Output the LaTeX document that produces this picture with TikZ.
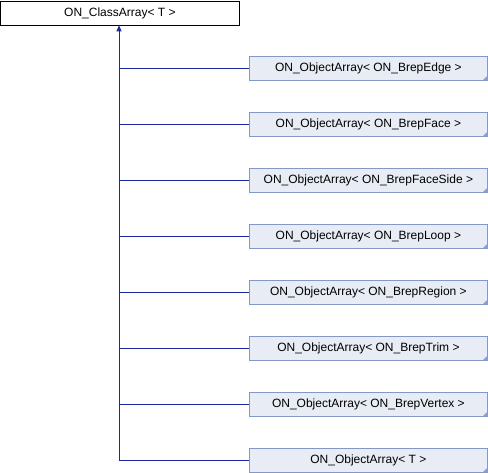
\documentclass[tikz,border=0pt]{standalone}
\usepackage{fontspec}
\setmainfont{Liberation Sans}
\usetikzlibrary{arrows.meta}
\definecolor{boxfill}{HTML}{E8ECF5}
\definecolor{boxline}{HTML}{8497C7}
\definecolor{linkblue}{HTML}{1A2A9A}
\definecolor{cornerblue}{HTML}{8C9DCC}
\tikzset{
  rootbox/.style={draw=black, fill=white, line width=0.8pt, minimum width=238pt, minimum height=24pt, inner sep=0pt, font=\fontsize{12}{14}\selectfont, anchor=north west},
  childbox/.style={draw=boxline, fill=boxfill, line width=0.8pt, minimum width=238pt, minimum height=24pt, inner sep=0pt, font=\fontsize{12}{14}\selectfont, anchor=west},
  link/.style={draw=linkblue, line width=0.9pt},
}
\begin{document}
\begin{tikzpicture}[x=1pt,y=-1pt]
\useasboundingbox (0,0) rectangle (488,472);
\node[rootbox] (root) at (0.5,0.5) {ON\_ClassArray< T >};
\coordinate (trunk) at (119,460);
\foreach \i/\t in {1/ON\_ObjectArray< ON\_BrepEdge >,
                   2/ON\_ObjectArray< ON\_BrepFace >,
                   3/ON\_ObjectArray< ON\_BrepFaceSide >,
                   4/ON\_ObjectArray< ON\_BrepLoop >,
                   5/ON\_ObjectArray< ON\_BrepRegion >,
                   6/ON\_ObjectArray< ON\_BrepTrim >,
                   7/ON\_ObjectArray< ON\_BrepVertex >,
                   8/ON\_ObjectArray< T >}{
  \node[childbox] (c\i) at (249,{12+56*\i}) {\t};
  \fill[cornerblue] (c\i.south east) -- ++(0,-5) -- ++(-5,5) -- cycle;
  \draw[link] (c\i.west) -- (119,{12+56*\i});
}
\draw[link, -{Triangle[length=6pt,width=5pt]}] (trunk) -- (root.south -| trunk);
\end{tikzpicture}
\end{document}
